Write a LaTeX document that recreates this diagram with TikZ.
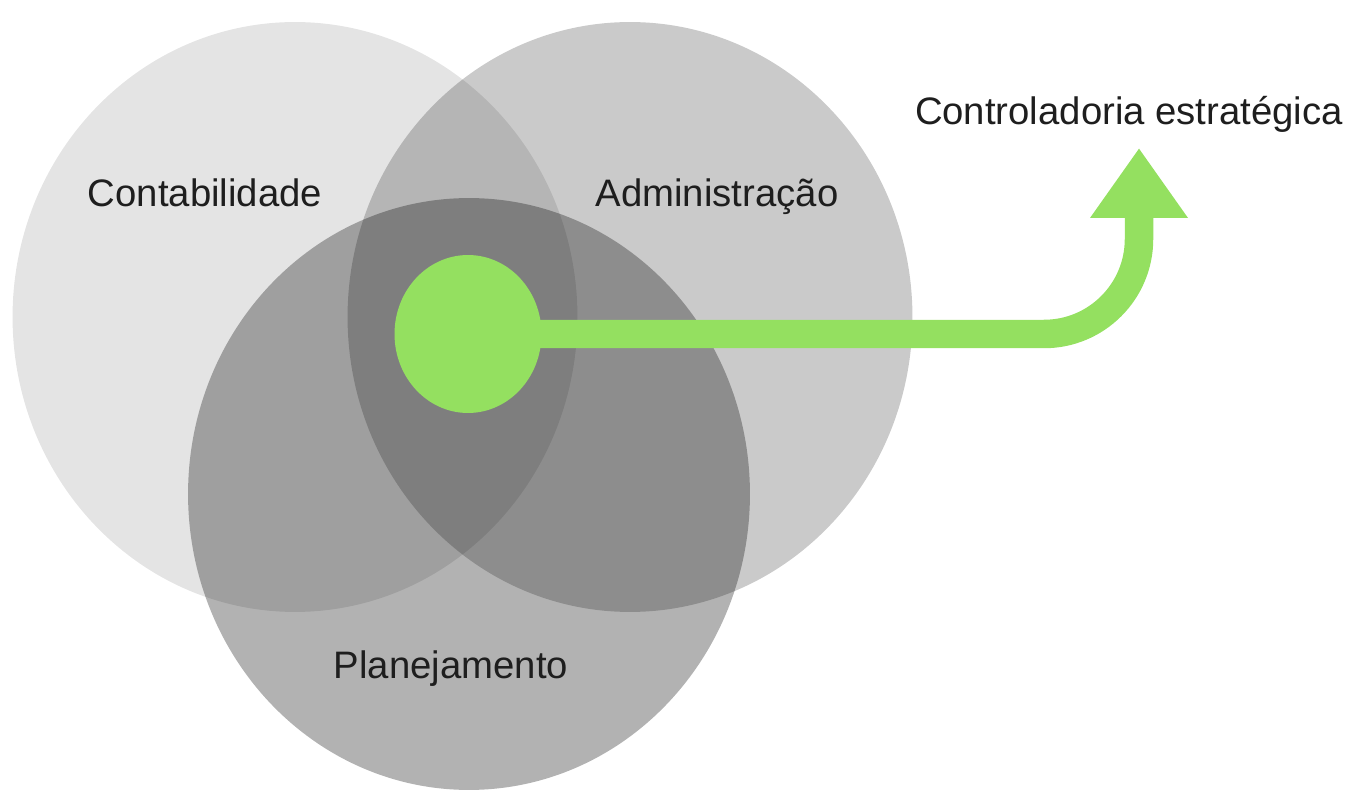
\documentclass[tikz,border=0pt]{standalone}
\usepackage{fontspec}
\setmainfont{Liberation Sans}
\usetikzlibrary{shapes.geometric,arrows.meta}
\definecolor{grn}{RGB}{148,224,96}
\definecolor{txt}{RGB}{30,30,30}
\begin{document}
\begin{tikzpicture}[x=0.02cm,y=-0.02cm,
  venn/.style={ellipse, fill=black, draw=none, inner sep=0pt, minimum width=11.3cm, minimum height=11.8cm},
  lbl/.style={anchor=base, text=txt, inner sep=0pt, font=\fontsize{21.8}{26}\selectfont}]
\useasboundingbox (0,0) rectangle (1355,793);
\node[venn, fill opacity=0.106] (cont) at (295,317) {};
\node[venn, fill opacity=0.208] (adm) at (630,317) {};
\node[venn, fill opacity=0.30, minimum width=11.24cm, minimum height=11.84cm] (plan) at (469,494) {};
\node[ellipse, fill=grn, inner sep=0pt, minimum width=2.94cm, minimum height=3.16cm] (dot) at (468,334) {};
\coordinate (tip) at (1139,148);
\draw[grn, line width=0.57cm, rounded corners=1.9cm, -{Triangle[width=1.86cm,length=1.4cm]}]
  (dot.center) -- (dot.center -| tip) -- (tip);
\node[lbl] (lc) at (205,207) {Contabilidade};
\node[lbl] (la) at (717,207) {Administração};
\node[lbl] (lp) at (451,678) {Planejamento};
\node[lbl] (lr) at (1129,125) {Controladoria estratégica};
\end{tikzpicture}
\end{document}
